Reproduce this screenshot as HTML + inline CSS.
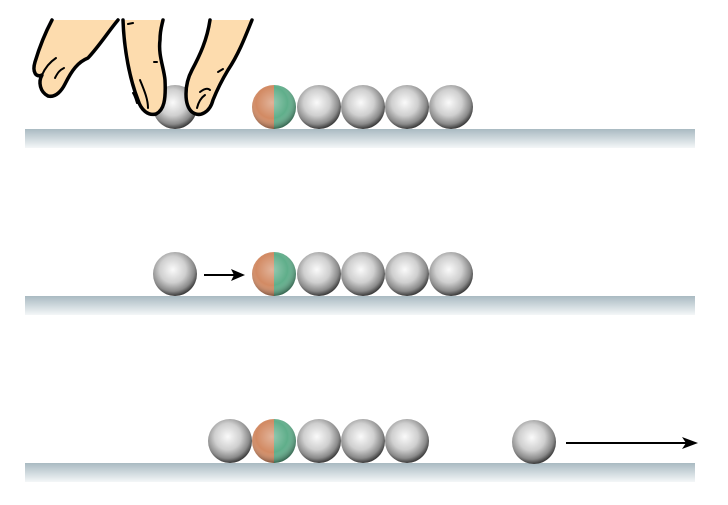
<!DOCTYPE html>
<html><head><style>body{margin:0;background:#fff}svg{display:block}</style></head><body>
<svg width="728" height="505" viewBox="0 0 728 505" xmlns="http://www.w3.org/2000/svg">
<defs>
<radialGradient id="g" cx="0.45" cy="0.4" r="0.6">
<stop offset="0" stop-color="#fafafa"/><stop offset="0.5" stop-color="#cfcfcf"/><stop offset="0.82" stop-color="#8a8a8a"/><stop offset="1" stop-color="#3a3a3a"/></radialGradient>
<radialGradient id="h" cx="0.45" cy="0.4" r="0.6">
<stop offset="0" stop-color="#fff" stop-opacity="0.35"/><stop offset="0.6" stop-color="#fff" stop-opacity="0"/><stop offset="1" stop-color="#000" stop-opacity="0.4"/></radialGradient>
<linearGradient id="t" x1="0" y1="0" x2="0" y2="1"><stop offset="0" stop-color="#a9bac2"/><stop offset="1" stop-color="#f4f7f8"/></linearGradient>
<g id="b"><circle r="22" fill="url(#g)"/></g>
<g id="c"><path d="M0,-22 A22,22 0 0,0 0,22Z" fill="#d28a63"/><path d="M0,-22 A22,22 0 0,1 0,22Z" fill="#5fae8a"/><circle r="22" fill="url(#h)"/></g>
</defs>
<rect x="25" y="129" width="670" height="19" fill="url(#t)"/>
<rect x="25" y="296" width="670" height="19" fill="url(#t)"/>
<rect x="25" y="463" width="670" height="19" fill="url(#t)"/>
<use href="#b" x="175" y="107"/><use href="#c" x="274" y="107"/>
<use href="#b" x="319" y="107"/><use href="#b" x="363" y="107"/><use href="#b" x="407" y="107"/><use href="#b" x="451" y="107"/>
<use href="#b" x="175" y="274"/><use href="#c" x="274" y="274"/>
<use href="#b" x="319" y="274"/><use href="#b" x="363" y="274"/><use href="#b" x="407" y="274"/><use href="#b" x="451" y="274"/>
<use href="#b" x="230" y="441"/><use href="#c" x="274" y="441"/>
<use href="#b" x="319" y="441"/><use href="#b" x="363" y="441"/><use href="#b" x="407" y="441"/><use href="#b" x="534" y="442"/>
<line x1="204" y1="275" x2="234" y2="275" stroke="#000" stroke-width="2"/><path d="M245,275 L231,269 L234,275 L231,281Z"/>
<line x1="566" y1="443" x2="686" y2="443" stroke="#000" stroke-width="2"/><path d="M698,443 L682,437 L686,443 L682,449Z"/>
<g fill="#fddcae" stroke="none">
<path d="M52,20 C44,35 38,52 35,62 C32,72 36,78 42,75 C38,82 40,92 48,96 C56,98 62,90 65,84 C72,70 78,62 88,58 C100,45 108,32 118,20Z"/>
<path d="M123,20 C124,50 130,80 138,100 C141,110 148,116 156,114 C164,110 166,100 165,80 C164,68 158,55 160,40 C160,30 162,25 163,20Z"/>
<path d="M210,20 C207,40 200,55 192,70 C184,85 184,105 192,112 C200,118 210,112 213,100 C217,90 222,80 228,70 C238,55 244,40 252,20Z"/>
</g>
<g fill="none" stroke="#000" stroke-width="3.5" stroke-linejoin="round" stroke-linecap="round">
<path d="M52,20 C44,35 38,52 35,62 C32,72 36,78 42,75 C38,82 40,92 48,96 C56,98 62,90 65,84 C72,70 78,62 88,58 C100,45 108,32 118,20"/>
<path d="M123,20 C124,50 130,80 138,100 C141,110 148,116 156,114 C164,110 166,100 165,80 C164,68 158,55 160,40 C160,30 162,25 163,20"/>
<path d="M210,20 C207,40 200,55 192,70 C184,85 184,105 192,112 C200,118 210,112 213,100 C217,90 222,80 228,70 C238,55 244,40 252,20"/>
</g>
<g fill="none" stroke="#000" stroke-width="2" stroke-linecap="round">
<path d="M42,75 C45,68 50,62 56,58"/><path d="M55,78 C58,72 60,70 64,68"/>
<path d="M140,80 C145,92 148,100 148,108"/><path d="M133,93 C135,96 136,100 137,103"/>
<path d="M200,92 C205,88 208,88 210,90"/><path d="M197,108 C199,100 202,97 205,95"/>
<path d="M128,24 L133,23"/><path d="M154,62 L157,62"/><path d="M218,72 L223,69"/>
</g>
</svg>
</body></html>
